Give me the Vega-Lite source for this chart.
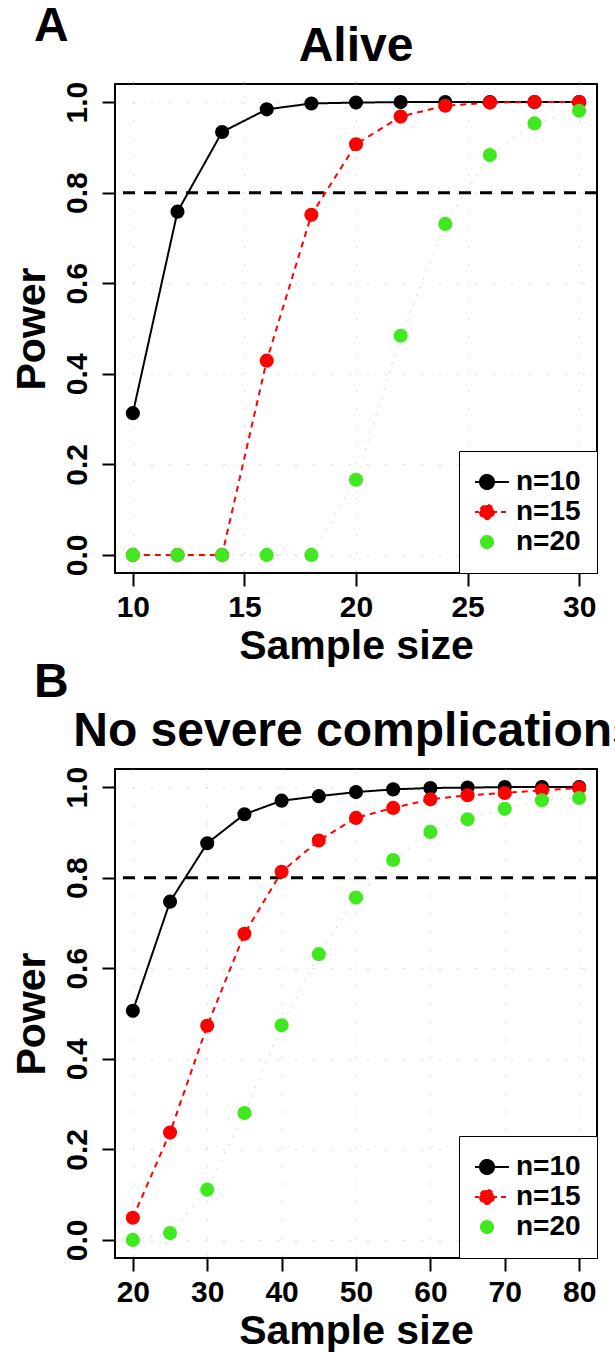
{
  "$schema": "https://vega.github.io/schema/vega-lite/v6.json",
  "background": "white",
  "padding": {"left": 10, "top": 3, "right": 0, "bottom": 0},
  "config": {
    "font": "Liberation Sans",
    "view": {"stroke": "black", "strokeWidth": 2},
    "axis": {
      "domain": false, "grid": true, "gridColor": "#bdbdbd", "gridDash": [1, 17], "gridWidth": 1,
      "ticks": true, "tickColor": "black", "tickWidth": 2, "tickSize": 13,
      "labelFont": "Liberation Sans", "labelFontSize": 30, "labelFontWeight": "bold", "labelColor": "black", "labelPadding": 6,
      "titleFont": "Liberation Sans", "titleFontSize": 41, "titleFontWeight": "bold", "titleColor": "black"
    },
    "axisY": {"labelPadding": 10, "titlePadding": 9},
    "title": {"font": "Liberation Sans", "fontSize": 48, "fontWeight": "bold", "color": "black"},
    "legend": {
      "orient": "bottom-right", "offset": 0,
      "strokeColor": "black", "fillColor": "white", "padding": 16,
      "symbolSize": 1296, "symbolStrokeWidth": 2, "clipHeight": 30, "symbolOffset": -2,
      "labelFont": "Liberation Sans", "labelFontSize": 28, "labelFontWeight": "bold", "labelColor": "black", "labelOffset": 15,
      "rowPadding": 0
    }
  },
  "datasets": {
    "alive": [
      {"size": 10, "power": 0.313, "group": "n=10"},
      {"size": 12, "power": 0.758, "group": "n=10"},
      {"size": 14, "power": 0.934, "group": "n=10"},
      {"size": 16, "power": 0.984, "group": "n=10"},
      {"size": 18, "power": 0.997, "group": "n=10"},
      {"size": 20, "power": 0.999, "group": "n=10"},
      {"size": 22, "power": 1.0, "group": "n=10"},
      {"size": 24, "power": 1.0, "group": "n=10"},
      {"size": 26, "power": 1.0, "group": "n=10"},
      {"size": 28, "power": 1.0, "group": "n=10"},
      {"size": 30, "power": 1.0, "group": "n=10"},
      {"size": 10, "power": 0.0, "group": "n=15"},
      {"size": 12, "power": 0.0, "group": "n=15"},
      {"size": 14, "power": 0.0, "group": "n=15"},
      {"size": 16, "power": 0.429, "group": "n=15"},
      {"size": 18, "power": 0.751, "group": "n=15"},
      {"size": 20, "power": 0.907, "group": "n=15"},
      {"size": 22, "power": 0.968, "group": "n=15"},
      {"size": 24, "power": 0.992, "group": "n=15"},
      {"size": 26, "power": 0.999, "group": "n=15"},
      {"size": 28, "power": 1.0, "group": "n=15"},
      {"size": 30, "power": 1.0, "group": "n=15"},
      {"size": 10, "power": 0.0, "group": "n=20"},
      {"size": 12, "power": 0.0, "group": "n=20"},
      {"size": 14, "power": 0.0, "group": "n=20"},
      {"size": 16, "power": 0.0, "group": "n=20"},
      {"size": 18, "power": 0.0, "group": "n=20"},
      {"size": 20, "power": 0.166, "group": "n=20"},
      {"size": 22, "power": 0.484, "group": "n=20"},
      {"size": 24, "power": 0.731, "group": "n=20"},
      {"size": 26, "power": 0.883, "group": "n=20"},
      {"size": 28, "power": 0.953, "group": "n=20"},
      {"size": 30, "power": 0.981, "group": "n=20"}
    ],
    "nosevere": [
      {"size": 20, "power": 0.506, "group": "n=10"},
      {"size": 25, "power": 0.747, "group": "n=10"},
      {"size": 30, "power": 0.876, "group": "n=10"},
      {"size": 35, "power": 0.940, "group": "n=10"},
      {"size": 40, "power": 0.970, "group": "n=10"},
      {"size": 45, "power": 0.980, "group": "n=10"},
      {"size": 50, "power": 0.989, "group": "n=10"},
      {"size": 55, "power": 0.995, "group": "n=10"},
      {"size": 60, "power": 0.998, "group": "n=10"},
      {"size": 65, "power": 0.999, "group": "n=10"},
      {"size": 70, "power": 1.0, "group": "n=10"},
      {"size": 75, "power": 1.0, "group": "n=10"},
      {"size": 80, "power": 1.0, "group": "n=10"},
      {"size": 20, "power": 0.049, "group": "n=15"},
      {"size": 25, "power": 0.237, "group": "n=15"},
      {"size": 30, "power": 0.473, "group": "n=15"},
      {"size": 35, "power": 0.676, "group": "n=15"},
      {"size": 40, "power": 0.813, "group": "n=15"},
      {"size": 45, "power": 0.882, "group": "n=15"},
      {"size": 50, "power": 0.932, "group": "n=15"},
      {"size": 55, "power": 0.954, "group": "n=15"},
      {"size": 60, "power": 0.973, "group": "n=15"},
      {"size": 65, "power": 0.982, "group": "n=15"},
      {"size": 70, "power": 0.987, "group": "n=15"},
      {"size": 75, "power": 0.993, "group": "n=15"},
      {"size": 80, "power": 0.998, "group": "n=15"},
      {"size": 20, "power": 0.0, "group": "n=20"},
      {"size": 25, "power": 0.015, "group": "n=20"},
      {"size": 30, "power": 0.111, "group": "n=20"},
      {"size": 35, "power": 0.280, "group": "n=20"},
      {"size": 40, "power": 0.474, "group": "n=20"},
      {"size": 45, "power": 0.631, "group": "n=20"},
      {"size": 50, "power": 0.756, "group": "n=20"},
      {"size": 55, "power": 0.839, "group": "n=20"},
      {"size": 60, "power": 0.901, "group": "n=20"},
      {"size": 65, "power": 0.929, "group": "n=20"},
      {"size": 70, "power": 0.952, "group": "n=20"},
      {"size": 75, "power": 0.971, "group": "n=20"},
      {"size": 80, "power": 0.976, "group": "n=20"}
    ],
    "threshold": [{"power": 0.8}]
  },
  "spacing": -8,
  "resolve": {"scale": {"x": "independent", "color": "independent"}, "legend": {"color": "independent"}},
  "vconcat": [
    {
      "title": {"text": "A", "anchor": "start", "dx": 24, "offset": -29},
      "resolve": {"scale": {"x": "independent", "color": "independent"}, "legend": {"color": "independent"}},
      "vconcat": [
        {
          "width": 482, "height": 489,
          "title": {"text": "Alive", "anchor": "middle", "offset": 10},
          "data": {"name": "alive"},
          "layer": [
            {
              "data": {"name": "threshold"},
              "mark": {"type": "rule", "color": "black", "strokeWidth": 3, "strokeDash": [12, 9]},
              "encoding": {"y": {"field": "power", "type": "quantitative"}}
            },
            {
              "transform": [{"filter": "datum.group !== 'n=20'"}],
              "mark": {"type": "line", "strokeWidth": 2},
              "encoding": {
                "x": {"field": "size", "type": "quantitative", "scale": {"domain": [9.2, 30.8], "nice": false, "zero": false}, "axis": {"values": [10, 15, 20, 25, 30], "title": "Sample size"}},
                "y": {"field": "power", "type": "quantitative", "scale": {"domain": [-0.04, 1.04], "nice": false, "zero": false}, "axis": {"values": [0, 0.2, 0.4, 0.6, 0.8, 1.0], "format": ".1f", "labelAngle": -90, "labelAlign": "center", "labelBaseline": "bottom", "title": "Power"}},
                "color": {"field": "group", "type": "nominal", "scale": {"domain": ["n=10", "n=15", "n=20"], "range": ["#000000", "#ff0000", "#40e81f"]}, "legend": {
                  "title": null, "symbolType": "M-1.22,0L1.22,0M-0.39,0A0.39,0.39 0 1,0 0.39,0A0.39,0.39 0 1,0 -0.39,0Z",
                  "encode": {"symbols": {"update": {
                    "strokeDash": {"signal": "datum.value === 'n=15' ? [5, 4] : [1, 0]"},
                    "strokeWidth": {"signal": "datum.value === 'n=20' ? 0 : 2"},
                    "stroke": {"signal": "datum.value === 'n=10' ? '#000000' : datum.value === 'n=15' ? '#ff0000' : '#40e81f'"},
                    "fill": {"signal": "datum.value === 'n=10' ? '#000000' : datum.value === 'n=15' ? '#ff0000' : '#40e81f'"},
                    "opacity": {"value": 1}, "fillOpacity": {"value": 1}, "strokeOpacity": {"value": 1}
                  }}}
                }},
                "strokeDash": {"field": "group", "type": "nominal", "scale": {"domain": ["n=10", "n=15"], "range": [[1, 0], [6, 5]]}, "legend": null}
              }
            },
            {
              "transform": [{"filter": "datum.group === 'n=20'"}],
              "mark": {"type": "line", "strokeWidth": 1.2, "opacity": 0.35, "strokeDash": [2, 7]},
              "encoding": {
                "x": {"field": "size", "type": "quantitative"},
                "y": {"field": "power", "type": "quantitative"},
                "color": {"field": "group", "type": "nominal", "legend": {
                  "title": null, "symbolType": "M-1.22,0L1.22,0M-0.39,0A0.39,0.39 0 1,0 0.39,0A0.39,0.39 0 1,0 -0.39,0Z",
                  "encode": {"symbols": {"update": {
                    "strokeDash": {"signal": "datum.value === 'n=15' ? [5, 4] : [1, 0]"},
                    "strokeWidth": {"signal": "datum.value === 'n=20' ? 0 : 2"},
                    "stroke": {"signal": "datum.value === 'n=10' ? '#000000' : datum.value === 'n=15' ? '#ff0000' : '#40e81f'"},
                    "fill": {"signal": "datum.value === 'n=10' ? '#000000' : datum.value === 'n=15' ? '#ff0000' : '#40e81f'"},
                    "opacity": {"value": 1}, "fillOpacity": {"value": 1}, "strokeOpacity": {"value": 1}
                  }}}
                }}
              }
            },
            {
              "mark": {"type": "point", "filled": true, "size": 200, "opacity": 1},
              "encoding": {
                "x": {"field": "size", "type": "quantitative"},
                "y": {"field": "power", "type": "quantitative"},
                "color": {"field": "group", "type": "nominal", "legend": {
                  "title": null, "symbolType": "M-1.22,0L1.22,0M-0.39,0A0.39,0.39 0 1,0 0.39,0A0.39,0.39 0 1,0 -0.39,0Z",
                  "encode": {"symbols": {"update": {
                    "strokeDash": {"signal": "datum.value === 'n=15' ? [5, 4] : [1, 0]"},
                    "strokeWidth": {"signal": "datum.value === 'n=20' ? 0 : 2"},
                    "stroke": {"signal": "datum.value === 'n=10' ? '#000000' : datum.value === 'n=15' ? '#ff0000' : '#40e81f'"},
                    "fill": {"signal": "datum.value === 'n=10' ? '#000000' : datum.value === 'n=15' ? '#ff0000' : '#40e81f'"},
                    "opacity": {"value": 1}, "fillOpacity": {"value": 1}, "strokeOpacity": {"value": 1}
                  }}}
                }}
              }
            }
          ]
        }
      ]
    },
    {
      "title": {"text": "B", "anchor": "start", "dx": 24, "offset": 0},
      "resolve": {"scale": {"x": "independent", "color": "independent"}, "legend": {"color": "independent"}},
      "vconcat": [
        {
          "width": 482, "height": 489,
          "title": {"text": "No severe complications", "anchor": "middle", "offset": 10},
          "data": {"name": "nosevere"},
          "layer": [
            {
              "data": {"name": "threshold"},
              "mark": {"type": "rule", "color": "black", "strokeWidth": 3, "strokeDash": [12, 9]},
              "encoding": {"y": {"field": "power", "type": "quantitative"}}
            },
            {
              "transform": [{"filter": "datum.group !== 'n=20'"}],
              "mark": {"type": "line", "strokeWidth": 2},
              "encoding": {
                "x": {"field": "size", "type": "quantitative", "scale": {"domain": [17.6, 82.4], "nice": false, "zero": false}, "axis": {"values": [20, 30, 40, 50, 60, 70, 80], "title": "Sample size"}},
                "y": {"field": "power", "type": "quantitative", "scale": {"domain": [-0.04, 1.04], "nice": false, "zero": false}, "axis": {"values": [0, 0.2, 0.4, 0.6, 0.8, 1.0], "format": ".1f", "labelAngle": -90, "labelAlign": "center", "labelBaseline": "bottom", "title": "Power"}},
                "color": {"field": "group", "type": "nominal", "scale": {"domain": ["n=10", "n=15", "n=20"], "range": ["#000000", "#ff0000", "#40e81f"]}, "legend": {
                  "title": null, "symbolType": "M-1.22,0L1.22,0M-0.39,0A0.39,0.39 0 1,0 0.39,0A0.39,0.39 0 1,0 -0.39,0Z",
                  "encode": {"symbols": {"update": {
                    "strokeDash": {"signal": "datum.value === 'n=15' ? [5, 4] : [1, 0]"},
                    "strokeWidth": {"signal": "datum.value === 'n=20' ? 0 : 2"},
                    "stroke": {"signal": "datum.value === 'n=10' ? '#000000' : datum.value === 'n=15' ? '#ff0000' : '#40e81f'"},
                    "fill": {"signal": "datum.value === 'n=10' ? '#000000' : datum.value === 'n=15' ? '#ff0000' : '#40e81f'"},
                    "opacity": {"value": 1}, "fillOpacity": {"value": 1}, "strokeOpacity": {"value": 1}
                  }}}
                }},
                "strokeDash": {"field": "group", "type": "nominal", "scale": {"domain": ["n=10", "n=15"], "range": [[1, 0], [6, 5]]}, "legend": null}
              }
            },
            {
              "transform": [{"filter": "datum.group === 'n=20'"}],
              "mark": {"type": "line", "strokeWidth": 1.2, "opacity": 0.35, "strokeDash": [2, 7]},
              "encoding": {
                "x": {"field": "size", "type": "quantitative"},
                "y": {"field": "power", "type": "quantitative"},
                "color": {"field": "group", "type": "nominal", "legend": {
                  "title": null, "symbolType": "M-1.22,0L1.22,0M-0.39,0A0.39,0.39 0 1,0 0.39,0A0.39,0.39 0 1,0 -0.39,0Z",
                  "encode": {"symbols": {"update": {
                    "strokeDash": {"signal": "datum.value === 'n=15' ? [5, 4] : [1, 0]"},
                    "strokeWidth": {"signal": "datum.value === 'n=20' ? 0 : 2"},
                    "stroke": {"signal": "datum.value === 'n=10' ? '#000000' : datum.value === 'n=15' ? '#ff0000' : '#40e81f'"},
                    "fill": {"signal": "datum.value === 'n=10' ? '#000000' : datum.value === 'n=15' ? '#ff0000' : '#40e81f'"},
                    "opacity": {"value": 1}, "fillOpacity": {"value": 1}, "strokeOpacity": {"value": 1}
                  }}}
                }}
              }
            },
            {
              "mark": {"type": "point", "filled": true, "size": 200, "opacity": 1},
              "encoding": {
                "x": {"field": "size", "type": "quantitative"},
                "y": {"field": "power", "type": "quantitative"},
                "color": {"field": "group", "type": "nominal", "legend": {
                  "title": null, "symbolType": "M-1.22,0L1.22,0M-0.39,0A0.39,0.39 0 1,0 0.39,0A0.39,0.39 0 1,0 -0.39,0Z",
                  "encode": {"symbols": {"update": {
                    "strokeDash": {"signal": "datum.value === 'n=15' ? [5, 4] : [1, 0]"},
                    "strokeWidth": {"signal": "datum.value === 'n=20' ? 0 : 2"},
                    "stroke": {"signal": "datum.value === 'n=10' ? '#000000' : datum.value === 'n=15' ? '#ff0000' : '#40e81f'"},
                    "fill": {"signal": "datum.value === 'n=10' ? '#000000' : datum.value === 'n=15' ? '#ff0000' : '#40e81f'"},
                    "opacity": {"value": 1}, "fillOpacity": {"value": 1}, "strokeOpacity": {"value": 1}
                  }}}
                }}
              }
            }
          ]
        }
      ]
    }
  ]
}
